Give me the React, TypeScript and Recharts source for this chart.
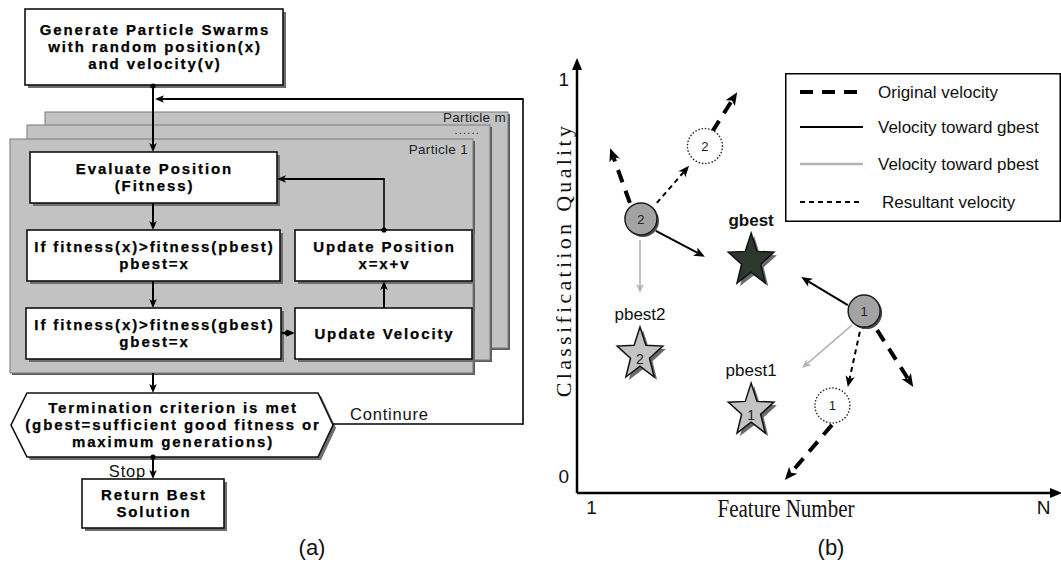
import React from "react";
import {
  ScatterChart,
  Scatter,
  XAxis,
  YAxis,
  ReferenceArea,
  ReferenceLine,
  ReferenceDot,
  Legend,
  Label,
} from "recharts";

const SANS = "'Liberation Sans', Arial, Helvetica, sans-serif";
const SERIF = "'Liberation Serif', 'Times New Roman', serif";

// ---------- (a) flowchart text ----------
const stepLines: string[][] = [
  ["Generate Particle Swarms", "with random position(x)", "and velocity(v)"],
  ["Evaluate Position", "(Fitness)"],
  ["If fitness(x)>fitness(pbest)", "pbest=x"],
  ["Update Position", "x=x+v"],
  ["If fitness(x)>fitness(gbest)", "gbest=x"],
  ["Update Velocity"],
  ["Termination criterion is met", "(gbest=sufficient good fitness or", "maximum generations)"],
  ["Return Best", "Solution"],
];
const layerLabels = ["Particle m", "......", "Particle 1"];
const continueLabel = "Continure";
const stopLabel = "Stop";

// ---------- (b) swarm values (x: feature axis 0-100, y: quality 0-100) ----------
const particles = [
  { id: "2", x: 13.3, y: 63.6 },
  { id: "1", x: 59.7, y: 42.2 },
];
const nextPositions = [
  { id: "2", x: 26.6, y: 80.5 },
  { id: "1", x: 53.1, y: 20.3 },
];
const bests = [
  { name: "gbest", tag: "", x: 36.2, y: 53.9 },
  { name: "pbest2", tag: "2", x: 13.1, y: 32.1 },
  { name: "pbest1", tag: "1", x: 36.2, y: 19.1 },
];
// [x1, y1, x2, y2]
const originalVelocity = [
  [11.0, 67.3, 6.9, 80.0],
  [28.1, 83.8, 33.3, 93.0],
  [62.4, 37.8, 69.9, 24.6],
  [53.0, 15.8, 43.2, 3.0],
];
const gbestVelocity = [
  [16.4, 60.8, 26.6, 54.8],
  [56.3, 43.6, 46.6, 50.1],
];
const pbestVelocity = [
  [13.1, 58.7, 13.1, 46.4],
  [57.2, 39.0, 46.8, 29.0],
];
const resultantVelocity = [
  [16.6, 67.3, 23.3, 75.9],
  [58.8, 37.4, 56.3, 24.6],
];
const xTicks = [3, 97];
const xTickText = ["1", "N"];
const yTicks = [4, 96];
const yTickText = ["0", "1"];
const legendItems = [
  { key: "original", text: "Original velocity" },
  { key: "gbest", text: "Velocity toward gbest" },
  { key: "pbest", text: "Velocity toward pbest" },
  { key: "resultant", text: "Resultant velocity" },
];

// ---------- styles / layout ----------
type LineStyle = { stroke: string; width: number; dash?: string; head: number };
const velocityStyles: Record<string, LineStyle> = {
  original: { stroke: "#000", width: 4, dash: "13 9", head: 13 },
  gbest: { stroke: "#000", width: 2, head: 11 },
  pbest: { stroke: "#b4b4b4", width: 1.6, head: 9 },
  resultant: { stroke: "#000", width: 2, dash: "5 4", head: 11 },
};
const flowArrow: LineStyle = { stroke: "#000", width: 2, head: 9 };
const flowWire: LineStyle = { stroke: "#000", width: 1.6, head: 0 };

// flowchart boxes, same order as stepLines (pixel grid of the left panel)
const boxLayout = [
  { x1: 25, y1: 9, x2: 283, y2: 85 },
  { x1: 30, y1: 152, x2: 277, y2: 203 },
  { x1: 27, y1: 230, x2: 280, y2: 281 },
  { x1: 295, y1: 230, x2: 472, y2: 281 },
  { x1: 26, y1: 308, x2: 281, y2: 359 },
  { x1: 295, y1: 308, x2: 472, y2: 359 },
  { x1: 11, y1: 393, x2: 333, y2: 457 },
  { x1: 82, y1: 479, x2: 224, y2: 528 },
];
const panelLayout = [
  { x1: 45, y1: 112, x2: 508, y2: 348, dx: -2, dy: 5, fs: 13.5 },
  { x1: 27, y1: 125, x2: 490, y2: 360, dx: -10, dy: 5.5, fs: 11 },
  { x1: 10, y1: 139, x2: 473, y2: 373, dx: -5, dy: 10, fs: 13.5 },
];
const flowLinks: [number, number, number, number, boolean][] = [
  [153, 86, 153, 152, true],
  [523, 99, 155, 99, true],
  [333, 424, 523, 424, false],
  [523, 424.8, 523, 98.2, false],
  [153, 203, 153, 230, true],
  [384, 230, 384, 179, false],
  [384.8, 179, 277, 179, true],
  [153, 281, 153, 308, true],
  [281, 333, 295, 333, true],
  [384, 308, 384, 281, true],
  [153, 373, 153, 393, true],
  [153, 457, 153, 479, true],
];
const junctions = [
  { x: 153, y: 86 },
  { x: 384, y: 230 },
  { x: 287, y: 333 },
  { x: 153, y: 457 },
];

function arrowShape(st: LineStyle) {
  return (p: any) => {
    const { x1, y1, x2, y2 } = p;
    const dx = x2 - x1;
    const dy = y2 - y1;
    const len = Math.hypot(dx, dy) || 1;
    const ux = dx / len;
    const uy = dy / len;
    const L = st.head;
    const W = L * 0.42;
    const bx = x2 - ux * L;
    const by = y2 - uy * L;
    const nx = x2 - ux * L * 0.75;
    const ny = y2 - uy * L * 0.75;
    const ex = L > 0 ? nx : x2;
    const ey = L > 0 ? ny : y2;
    return (
      <g>
        <line
          x1={x1}
          y1={y1}
          x2={ex}
          y2={ey}
          stroke={st.stroke}
          strokeWidth={st.width}
          strokeDasharray={st.dash}
        />
        {L > 0 && (
          <polygon
            points={`${x2},${y2} ${bx - uy * W},${by + ux * W} ${nx},${ny} ${bx + uy * W},${by - ux * W}`}
            fill={st.stroke}
          />
        )}
      </g>
    );
  };
}

function boxShape(lines: string[], hex: boolean) {
  return (p: any) => {
    const { x, y, width, height } = p;
    const cx = x + width / 2 + 1;
    const cy = y + height / 2;
    const lh = 17;
    const y0 = cy - ((lines.length - 1) * lh) / 2;
    const x2 = x + width;
    const y2 = y + height;
    const hexPts = (ox: number, oy: number) =>
      `${x + ox},${cy + oy} ${x + 16 + ox},${y + oy} ${x2 - 15 + ox},${y + oy} ${x2 + ox},${cy + oy} ${x2 - 15 + ox},${y2 + oy} ${x + 16 + ox},${y2 + oy}`;
    return (
      <g>
        {hex ? (
          <>
            <polygon points={hexPts(3, 3)} fill="#6e6e6e" />
            <polygon points={hexPts(0, 0)} fill="#fff" stroke="#111" strokeWidth={1.6} />
          </>
        ) : (
          <>
            <rect x={x + 3} y={y + 3} width={width} height={height} fill="#6e6e6e" />
            <rect x={x} y={y} width={width} height={height} fill="#fff" stroke="#111" strokeWidth={1.6} />
          </>
        )}
        <text
          textAnchor="middle"
          fontFamily={SANS}
          fontWeight="bold"
          fontSize={15}
          letterSpacing={1.9}
          fill="#000"
          stroke="#000"
          strokeWidth={0.25}
        >
          {lines.map((l, i) => (
            <tspan key={i} x={cx} y={y0 + i * lh} dy="0.36em">
              {l}
            </tspan>
          ))}
        </text>
      </g>
    );
  };
}

function panelShape(label: string, dx: number, dy: number, fs: number) {
  return (p: any) => {
    const { x, y, width, height } = p;
    return (
      <g>
        <rect x={x + 2} y={y + 2} width={width} height={height} fill="#5c5c5c" />
        <rect x={x} y={y} width={width} height={height} fill="#c2c2c2" stroke="#7a7a7a" strokeWidth={1} />
        <text
          x={x + width + dx}
          y={y + dy}
          dy="0.36em"
          textAnchor="end"
          fontFamily={SANS}
          fontSize={fs}
          letterSpacing={fs < 12 ? 1.2 : 0.3}
          fill="#222"
        >
          {label}
        </text>
      </g>
    );
  };
}

const JunctionDot = (p: any) => <circle cx={p.cx} cy={p.cy} r={2.6} fill="#000" />;

const ParticleShape = (p: any) => {
  const { cx, cy, payload } = p;
  return (
    <g>
      <circle cx={cx + 2} cy={cy + 2} r={16} fill="#4a4a4a" />
      <circle cx={cx} cy={cy} r={16} fill="#a3a3a3" stroke="#1a1a1a" strokeWidth={1.5} />
      <text x={cx} y={cy} dy="0.36em" textAnchor="middle" fontFamily={SANS} fontSize={13} fill="#222">
        {payload.id}
      </text>
    </g>
  );
};

const GhostShape = (p: any) => {
  const { cx, cy, payload } = p;
  return (
    <g>
      <circle
        cx={cx}
        cy={cy}
        r={17.5}
        fill="#fff"
        stroke="#222"
        strokeWidth={1.6}
        strokeDasharray="0.1 3.2"
        strokeLinecap="round"
      />
      <text x={cx} y={cy} dy="0.36em" textAnchor="middle" fontFamily={SANS} fontSize={13} fill="#222">
        {payload.id}
      </text>
    </g>
  );
};

function starPoints(cx: number, cy: number, R: number, r: number, sy: number) {
  const pts: string[] = [];
  for (let i = 0; i < 10; i++) {
    const a = -Math.PI / 2 + (i * Math.PI) / 5;
    const rad = i % 2 === 0 ? R : r;
    pts.push(`${cx + rad * Math.cos(a)},${cy + rad * Math.sin(a) * sy}`);
  }
  return pts.join(" ");
}

const StarShape = (p: any) => {
  const { cx, cy, payload } = p;
  const isG = payload.name === "gbest";
  return (
    <g>
      <polygon points={starPoints(cx + 3, cy + 3, 24, 10, 1.15)} fill="#6a6a6a" />
      <polygon
        points={starPoints(cx, cy, 24, 10, 1.15)}
        fill={isG ? "#2c382e" : "#c3c3c3"}
        stroke="#111"
        strokeWidth={1.5}
      />
      {payload.tag && (
        <text x={cx} y={cy + 4} dy="0.36em" textAnchor="middle" fontFamily={SANS} fontSize={14} fill="#222">
          {payload.tag}
        </text>
      )}
      <text
        x={cx}
        y={cy - 41}
        dy="0.36em"
        textAnchor="middle"
        fontFamily={SANS}
        fontSize={17}
        fontWeight={isG ? "bold" : "normal"}
        fill="#111"
      >
        {payload.name}
      </text>
    </g>
  );
};

const ArrowRight = (p: any) => (
  <polygon points={`${p.cx + 4},${p.cy} ${p.cx - 8},${p.cy - 5} ${p.cx - 8},${p.cy + 5}`} fill="#000" />
);
const ArrowUp = (p: any) => (
  <polygon points={`${p.cx},${p.cy - 4} ${p.cx - 5},${p.cy + 8} ${p.cx + 5},${p.cy + 8}`} fill="#000" />
);

const renderLegend = () => {
  const rows = [19, 54, 91, 129];
  return (
    <svg width={276} height={149} style={{ display: "block" }}>
      <rect x={0.75} y={0.75} width={274.5} height={147.5} fill="#fff" stroke="#000" strokeWidth={1.5} />
      {legendItems.map((it, i) => {
        const st = velocityStyles[it.key];
        return (
          <g key={it.key}>
            <line
              x1={15}
              y1={rows[i]}
              x2={78}
              y2={rows[i]}
              stroke={st.stroke}
              strokeWidth={it.key === "original" ? 4 : st.width + (it.key === "pbest" ? 1 : 0)}
              strokeDasharray={st.dash}
            />
            <text
              x={it.key === "resultant" ? 97 : 93}
              y={rows[i]}
              dy="0.36em"
              fontFamily={SANS}
              fontSize={17}
              fill="#111"
            >
              {it.text}
            </text>
          </g>
        );
      })}
    </svg>
  );
};

const renderXTitle = (p: any) => {
  const vb = p.viewBox || { x: 47, y: 493 };
  return (
    <text
      transform={`translate(${vb.x + 209},${vb.y + 15}) scale(1,1.2)`}
      dy="0.35em"
      textAnchor="middle"
      fontFamily={SERIF}
      fontSize={21}
      fill="#111"
    >
      Feature Number
    </text>
  );
};

const renderYTitle = (p: any) => {
  const vb = p.viewBox || { x: 27, y: 62 };
  return (
    <text
      transform={`translate(${vb.x + 6},${260}) rotate(-90)`}
      dy="0.35em"
      textAnchor="middle"
      fontFamily={SERIF}
      fontSize={22}
      letterSpacing={3.3}
      fill="#111"
    >
      Classificatiion Quality
    </text>
  );
};

const tickStyle = { fill: "#111", fontSize: 19, fontFamily: SANS };

export default function App() {
  const segs = (list: number[][], st: LineStyle, key: string) =>
    list.map((s, i) => (
      <ReferenceLine
        key={`${key}-${i}`}
        segment={[
          { x: s[0], y: s[1] },
          { x: s[2], y: s[3] },
        ]}
        shape={arrowShape(st)}
        ifOverflow="visible"
      />
    ));

  return (
    <div style={{ position: "absolute", left: 0, top: 0, width: 1061, height: 563, background: "#fff" }}>
      {/* (a) flowchart */}
      <div style={{ position: "absolute", left: 0, top: 0 }}>
        <ScatterChart width={530} height={563} margin={{ top: 0, right: 0, bottom: 0, left: 0 }}>
          <XAxis type="number" dataKey="x" domain={[0, 530]} hide allowDataOverflow />
          <YAxis type="number" dataKey="y" domain={[0, 563]} reversed hide allowDataOverflow />
          {panelLayout.map((b, i) => (
            <ReferenceArea
              key={`panel-${i}`}
              x1={b.x1}
              x2={b.x2}
              y1={b.y1}
              y2={b.y2}
              ifOverflow="visible"
              shape={panelShape(layerLabels[i], b.dx, b.dy, b.fs)}
            />
          ))}
          {boxLayout.map((b, i) => (
            <ReferenceArea
              key={`box-${i}`}
              x1={b.x1}
              x2={b.x2}
              y1={b.y1}
              y2={b.y2}
              ifOverflow="visible"
              shape={boxShape(stepLines[i], i === 6)}
            />
          ))}
          {flowLinks.map((l, i) => (
            <ReferenceLine
              key={`link-${i}`}
              segment={[
                { x: l[0], y: l[1] },
                { x: l[2], y: l[3] },
              ]}
              ifOverflow="visible"
              shape={arrowShape(l[4] ? flowArrow : flowWire)}
            />
          ))}
          <ReferenceDot
            x={350}
            y={414}
            r={0}
            ifOverflow="visible"
            shape={(p: any) => (
              <text x={p.cx} y={p.cy} dy="0.36em" fontFamily={SANS} fontSize={16.5} letterSpacing={0.8} fill="#111">
                {continueLabel}
              </text>
            )}
          />
          <ReferenceDot
            x={146}
            y={471}
            r={0}
            ifOverflow="visible"
            shape={(p: any) => (
              <text
                x={p.cx}
                y={p.cy}
                dy="0.36em"
                textAnchor="end"
                fontFamily={SANS}
                fontSize={16.5}
                letterSpacing={0.8}
                fill="#111"
              >
                {stopLabel}
              </text>
            )}
          />
          <Scatter data={junctions} shape={JunctionDot} isAnimationActive={false} />
        </ScatterChart>
      </div>

      {/* (b) particle swarm */}
      <div style={{ position: "absolute", left: 530, top: 0 }}>
        <ScatterChart width={531} height={563} margin={{ top: 62, right: 3, bottom: 40, left: 27 }}>
          <XAxis
            type="number"
            dataKey="x"
            domain={[0, 100]}
            ticks={xTicks}
            tickFormatter={(v: number) => xTickText[xTicks.indexOf(v)]}
            tickLine={false}
            axisLine={{ stroke: "#000", strokeWidth: 2.5 }}
            tick={tickStyle}
            height={30}
            allowDataOverflow
          >
            <Label content={renderXTitle} />
          </XAxis>
          <YAxis
            type="number"
            dataKey="y"
            domain={[0, 100]}
            ticks={yTicks}
            tickFormatter={(v: number) => yTickText[yTicks.indexOf(v)]}
            tickLine={false}
            axisLine={{ stroke: "#000", strokeWidth: 2.5 }}
            tick={tickStyle}
            width={20}
            allowDataOverflow
          >
            <Label content={renderYTitle} />
          </YAxis>
          <ReferenceDot x={100} y={0} r={0} ifOverflow="visible" shape={ArrowRight} />
          <ReferenceDot x={0} y={100} r={0} ifOverflow="visible" shape={ArrowUp} />
          {segs(pbestVelocity, velocityStyles.pbest, "pb")}
          {segs(gbestVelocity, velocityStyles.gbest, "gb")}
          {segs(resultantVelocity, velocityStyles.resultant, "rs")}
          {segs(originalVelocity, velocityStyles.original, "or")}
          <Scatter name="next" data={nextPositions} shape={GhostShape} isAnimationActive={false} />
          <Scatter name="best" data={bests} shape={StarShape} isAnimationActive={false} />
          <Scatter name="particle" data={particles} shape={ParticleShape} isAnimationActive={false} />
          <Legend
            layout="vertical"
            align="center"
            verticalAlign="middle"
            content={renderLegend}
            wrapperStyle={{ left: 255, top: 73, width: 276, height: 149 }}
          />
        </ScatterChart>
      </div>

      <div
        style={{
          position: "absolute",
          left: 312,
          top: 548,
          transform: "translate(-50%, -50%)",
          fontFamily: SANS,
          fontSize: 22,
          lineHeight: 1,
          color: "#111",
        }}
      >
        (a)
      </div>
      <div
        style={{
          position: "absolute",
          left: 831,
          top: 548,
          transform: "translate(-50%, -50%)",
          fontFamily: SANS,
          fontSize: 22,
          lineHeight: 1,
          color: "#111",
        }}
      >
        (b)
      </div>
    </div>
  );
}
